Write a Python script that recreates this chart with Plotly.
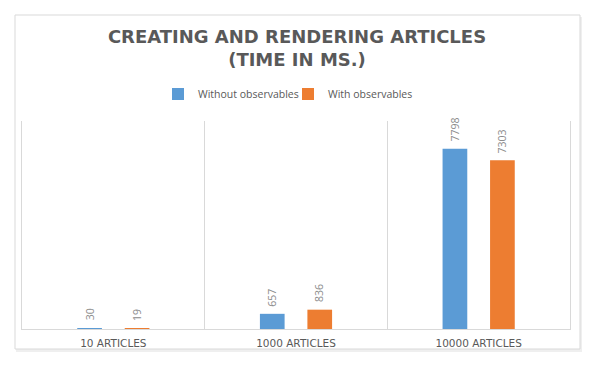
import plotly.graph_objects as go

categories = ["10 ARTICLES", "1000 ARTICLES", "10000 ARTICLES"]
without_obs = [30, 657, 7798]
with_obs = [19, 836, 7303]
series_names = ["Without observables", "With observables"]
colors = ["#5B9BD5", "#ED7D31"]

OFF = 8  # page body margin
W, H = 596 - OFF, 365 - OFF
ml, mr, mt, mb = 22 - OFF, 26, 121 - OFF, 36
pw = W - ml - mr
ph = H - mt - mb

fig = go.Figure()
for name, vals, col in zip(series_names, [without_obs, with_obs], colors):
    fig.add_trace(go.Bar(x=categories, y=vals, name=name, marker_color=col,
                         marker_line_width=0))

LABEL_SIZE = 10.5
CHAR_W = 5.6   # approx digit advance at LABEL_SIZE
GAP = 8        # gap between bar top and label
label_font = dict(family="Open Sans, Liberation Sans, sans-serif", size=LABEL_SIZE, color="#8C8C8C")
shifts = [-23.75, 23.75]
for vals, sh in zip([without_obs, with_obs], shifts):
    for c, v in zip(categories, vals):
        txt = str(v)
        fig.add_annotation(x=c, y=v, text=txt, showarrow=False, textangle=-90,
                           xshift=sh, yshift=GAP + len(txt) * CHAR_W / 2,
                           yanchor="middle", xanchor="center", font=label_font)

def px_to_paper_x(px):
    return (px - OFF - ml) / pw

def px_to_paper_y(py):
    return (H - mb - (py - OFF)) / ph

# shadow and outer border
fig.add_shape(type="rect", xref="paper", yref="paper",
              x0=px_to_paper_x(16), x1=px_to_paper_x(582),
              y0=px_to_paper_y(352), y1=px_to_paper_y(17),
              line_width=0, fillcolor="#EFEFEF", layer="below")
fig.add_shape(type="rect", xref="paper", yref="paper",
              x0=px_to_paper_x(15), x1=px_to_paper_x(580),
              y0=px_to_paper_y(349), y1=px_to_paper_y(15),
              line=dict(color="#D9D9D9", width=1), fillcolor="white", layer="below")

fig.update_layout(
    width=W, height=H,
    margin=dict(l=ml, r=mr, t=mt, b=mb),
    paper_bgcolor="white", plot_bgcolor="rgba(0,0,0,0)",
    barmode="group", bargap=0.48, bargroupgap=0.48,
    title=dict(text="CREATING AND RENDERING ARTICLES<br>(TIME IN MS.)",
               x=(297 - OFF) / W, xanchor="center", xref="container",
               y=1 - (43 - OFF) / H, yanchor="middle", yref="container",
               font=dict(family="DejaVu Sans, sans-serif", size=18,
                         color="#595959", weight="bold")),
    legend=dict(orientation="h", x=px_to_paper_x(288), xanchor="center",
                y=px_to_paper_y(94), yanchor="middle",
                font=dict(family="Open Sans, Liberation Sans, sans-serif", size=10.5, color="#595959"),
                bgcolor="rgba(0,0,0,0)", itemwidth=30, tracegroupgap=0,
                entrywidth=85, entrywidthmode="pixels"),
    showlegend=True,
    xaxis=dict(showgrid=True, gridcolor="#D9D9D9", gridwidth=1, tickson="boundaries",
               ticks="", showline=True, linecolor="#D9D9D9", linewidth=1,
               ticklabelstandoff=4,
               tickfont=dict(family="DejaVu Sans, sans-serif", size=10.5, color="#595959"),
               zeroline=False),
    yaxis=dict(range=[0, 9000], showgrid=False, showticklabels=False, zeroline=False,
               showline=True, mirror=True, linecolor="#D9D9D9", linewidth=1, ticks=""),
)

fig.write_html("out.html")
